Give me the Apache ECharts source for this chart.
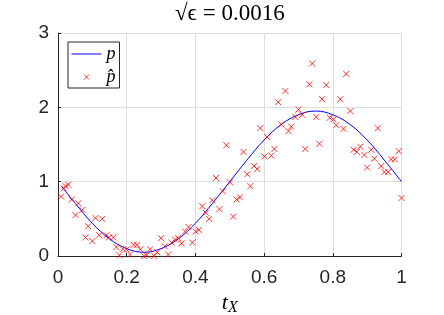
<!DOCTYPE html>
<html>
<head>
<meta charset="utf-8">
<script src="https://cdn.jsdelivr.net/npm/echarts@6/dist/echarts.min.js"></script>
<style>html,body{margin:0;padding:0;background:#fff}#c{width:444px;height:315px}</style>
</head>
<body>
<div id="c"></div>
<script>
// Smooth model curve p
const curveT = [0.01, 0.05, 0.10, 0.15, 0.20, 0.25, 0.30, 0.35, 0.40, 0.45, 0.50,
                0.55, 0.60, 0.65, 0.70, 0.75, 0.80, 0.85, 0.90, 0.95, 1.00];
const curveP = [0.94, 0.71, 0.44, 0.23, 0.10, 0.05, 0.10, 0.23, 0.44, 0.71, 1.00,
                1.29, 1.56, 1.77, 1.90, 1.95, 1.90, 1.77, 1.56, 1.29, 1.00];

// Noisy samples p-hat
const sampleT = [0.009,0.017,0.022,0.030,0.040,0.051,0.059,0.071,0.080,0.088,
                 0.100,0.109,0.120,0.129,0.141,0.148,0.161,0.170,0.179,0.189,
                 0.199,0.210,0.220,0.230,0.240,0.251,0.258,0.268,0.280,0.289,
                 0.300,0.311,0.321,0.331,0.341,0.350,0.360,0.370,0.380,0.391,
                 0.401,0.410,0.420,0.430,0.440,0.449,0.460,0.470,0.480,0.490,
                 0.501,0.510,0.520,0.530,0.540,0.551,0.560,0.571,0.580,0.589,
                 0.601,0.609,0.621,0.630,0.641,0.650,0.662,0.671,0.679,0.691,
                 0.700,0.711,0.720,0.732,0.740,0.752,0.761,0.769,0.781,0.791,
                 0.802,0.810,0.822,0.831,0.839,0.851,0.861,0.870,0.880,0.892,
                 0.900,0.912,0.921,0.931,0.941,0.950,0.961,0.970,0.981,0.992,1.000];
const sampleP = [0.80,0.91,0.94,0.96,0.76,0.55,0.71,0.62,0.25,0.40,
                 0.20,0.51,0.28,0.50,0.28,0.25,0.25,0.12,0.01,0.09,
                 0.09,0.02,0.15,0.15,0.09,0.00,0.01,0.09,0.00,0.05,
                 0.24,0.13,0.02,0.18,0.22,0.24,0.17,0.33,0.39,0.18,
                 0.33,0.35,0.67,0.58,0.50,0.75,1.05,0.63,0.87,1.49,
                 0.99,0.53,0.76,0.79,1.40,1.10,0.94,1.21,1.17,1.72,
                 1.34,1.60,1.35,1.44,2.07,1.77,2.22,1.68,1.74,1.87,
                 1.97,1.90,1.44,2.31,2.59,1.87,1.51,2.11,2.30,1.86,
                 1.84,1.76,2.11,1.71,2.45,1.95,1.43,1.40,1.47,1.36,
                 1.19,1.43,1.31,1.72,1.21,1.13,1.13,1.30,1.30,1.41,0.78];

const xTicks = [0, 0.2, 0.4, 0.6, 0.8, 1];
const yTicks = [0, 1, 2, 3];

const axisColor = '#262626';
const gridColor = '#dedede';
const xMark = 'path://M0 0L10 10M10 0L0 10';

const chart = echarts.init(document.getElementById('c'), null, {renderer: 'canvas'});
chart.setOption({
  animation: false,
  backgroundColor: '#ffffff',
  title: {
    text: '√ϵ = 0.0016',
    left: 170, top: -3,
    textStyle: {fontFamily: 'Liberation Serif', fontSize: 23, fontWeight: 'normal', color: '#000'}
  },
  grid: {left: 58, right: 42.5, top: 33, bottom: 59, containLabel: false, outerBoundsMode: 'none'},
  legend: {
    left: 68, top: 42, orient: 'vertical',
    borderColor: axisColor, borderWidth: 1,
    padding: [3, 4, 2, 3],
    itemWidth: 30, itemHeight: 5, itemGap: 5,
    selectedMode: false,
    textStyle: {fontFamily: 'Liberation Serif', fontStyle: 'italic', fontSize: 18, color: '#000'},
    data: [
      {name: 'p', itemStyle: {color: 'rgba(0,0,0,0)', borderWidth: 0, opacity: 0}, lineStyle: {width: 1, color: '#0000ff'}},
      {name: 'p\u0302', itemStyle: {color: '#ff0000', borderColor: '#ff0000', borderWidth: 1}}
    ]
  },
  xAxis: {
    type: 'value', min: 0, max: 1, interval: 0.2,
    name: '{t|t}{s|X}', nameLocation: 'middle', nameGap: 31,
    nameTextStyle: {
      rich: {
        t: {fontFamily: 'Liberation Serif', fontStyle: 'italic', fontSize: 22, color: '#000'},
        s: {fontFamily: 'Liberation Serif', fontStyle: 'italic', fontSize: 16, color: '#000', verticalAlign: 'bottom', padding: [10, 0, 0, 0]}
      }
    },
    axisLine: {show: true, lineStyle: {color: axisColor, width: 1}},
    axisTick: {show: true, inside: true, length: 3, lineStyle: {color: axisColor}},
    axisLabel: {
      margin: 12, fontFamily: 'Liberation Sans', fontSize: 19, color: axisColor,
      formatter: v => String(xTicks.find(t => Math.abs(t - v) < 1e-9) ?? v)
    },
    splitLine: {show: true, lineStyle: {color: gridColor, width: 1}}
  },
  yAxis: {
    type: 'value', min: 0, max: 3, interval: 1,
    axisLine: {show: true, lineStyle: {color: axisColor, width: 1}},
    axisTick: {show: true, inside: true, length: 3, lineStyle: {color: axisColor}},
    axisLabel: {
      margin: 9, fontFamily: 'Liberation Sans', fontSize: 19, color: axisColor,
      formatter: v => String(yTicks.find(t => Math.abs(t - v) < 1e-9) ?? v)
    },
    splitLine: {show: true, lineStyle: {color: gridColor, width: 1}}
  },
  series: [
    {
      name: 'p', type: 'line', smooth: 0.4,
      symbol: 'none', showSymbol: false,
      itemStyle: {color: '#0000ff'},
      lineStyle: {color: '#0000ff', width: 1},
      data: curveT.map((t, i) => [t, curveP[i]]),
      z: 3
    },
    {
      name: 'p\u0302', type: 'scatter',
      symbol: xMark, symbolSize: 6,
      itemStyle: {color: '#ff0000', borderColor: '#ff0000', borderWidth: 1},
      data: sampleT.map((t, i) => [t, sampleP[i]]),
      z: 4
    }
  ]
});
</script>
</body>
</html>
